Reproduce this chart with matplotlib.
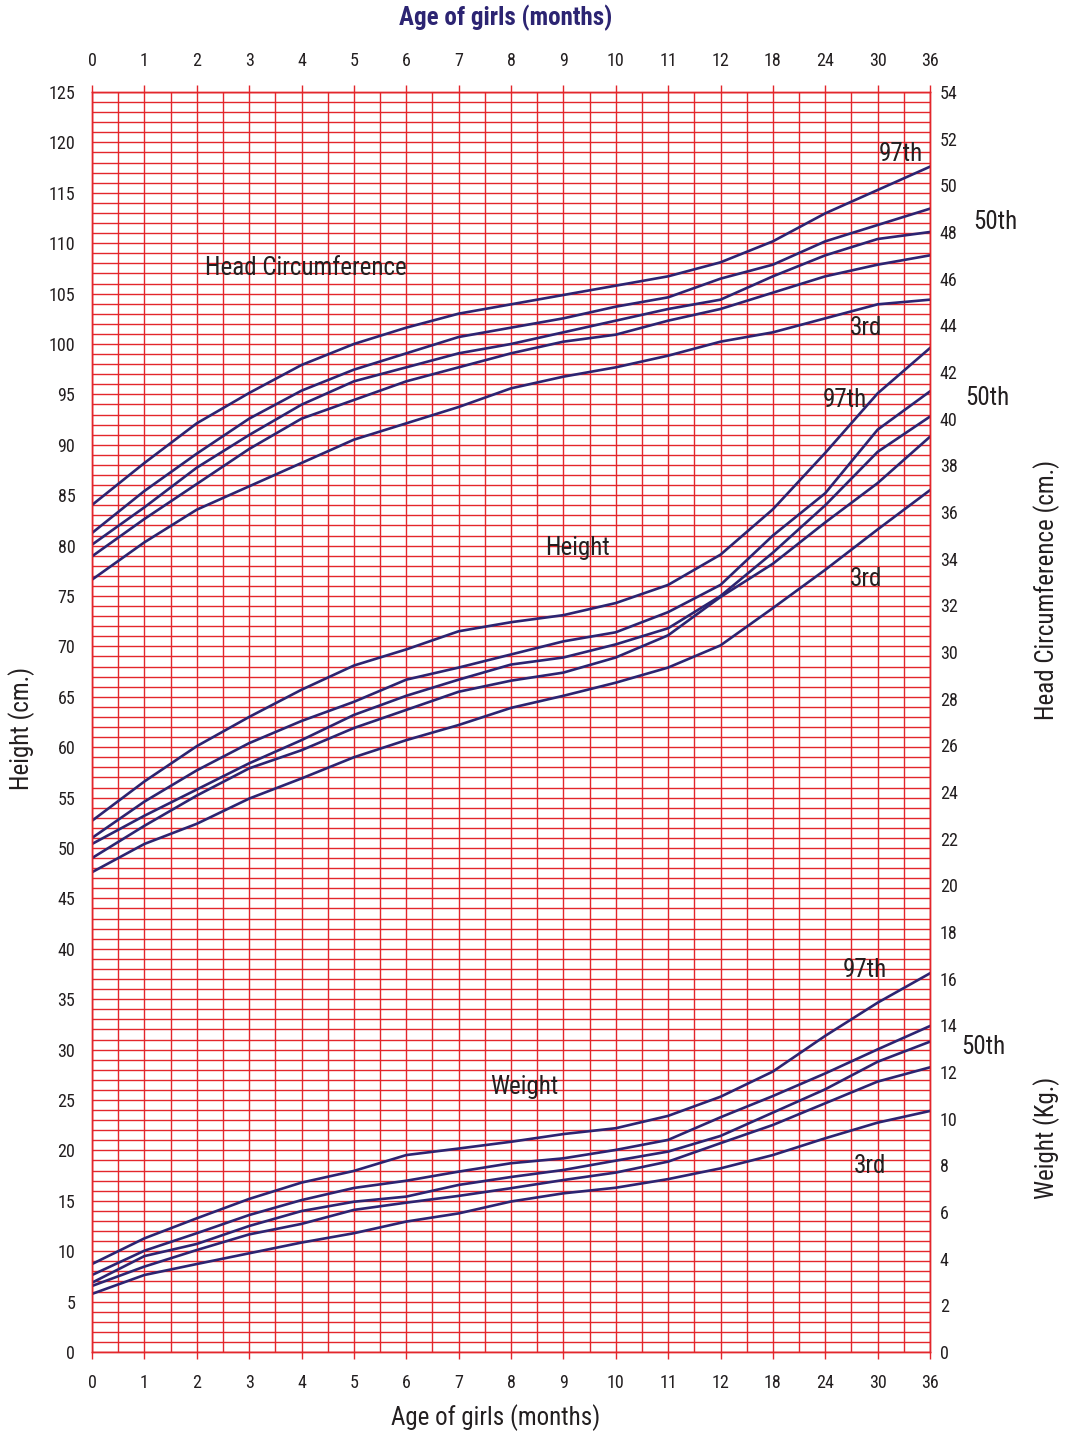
import matplotlib
matplotlib.use('Agg')
import matplotlib.pyplot as plt
from matplotlib.ticker import MultipleLocator
import numpy as np

plt.rcParams['font.family'] = ['Roboto Condensed', 'DejaVu Sans']

# x positions are equal steps; labels are the age in months
age_labels = ['0', '1', '2', '3', '4', '5', '6', '7', '8', '9', '10', '11', '12',
              '18', '24', '30', '36']
age_pos = list(range(len(age_labels)))

# head circumference (cm, right scale)
head_97 = [36.3, 38.1, 39.8, 41.1, 42.3, 43.2, 43.9, 44.5, 44.9, 45.3, 45.7, 46.1, 46.7, 47.6, 48.8, 49.8, 50.8]
head_75 = [35.1, 36.9, 38.5, 40.0, 41.2, 42.1, 42.8, 43.5, 43.9, 44.3, 44.8, 45.2, 46.0, 46.6, 47.6, 48.3, 49.0]
head_50 = [34.6, 36.2, 37.9, 39.3, 40.6, 41.6, 42.2, 42.8, 43.2, 43.7, 44.2, 44.7, 45.1, 46.1, 47.0, 47.7, 48.0]
head_25 = [34.1, 35.7, 37.2, 38.7, 40.0, 40.8, 41.6, 42.2, 42.8, 43.3, 43.6, 44.2, 44.7, 45.4, 46.1, 46.6, 47.0]
head_3 = [33.1, 34.7, 36.1, 37.1, 38.1, 39.1, 39.8, 40.5, 41.3, 41.8, 42.2, 42.7, 43.3, 43.7, 44.3, 44.9, 45.1]

# height (cm, left scale)
height_97 = [52.7, 56.6, 60.1, 63.0, 65.7, 68.1, 69.7, 71.5, 72.4, 73.1, 74.3, 76.1, 79.1, 83.6, 89.2, 95.1, 99.6]
height_75 = [51.0, 54.6, 57.7, 60.4, 62.6, 64.5, 66.7, 67.9, 69.2, 70.5, 71.4, 73.4, 76.1, 81.0, 85.2, 91.5, 95.3]
height_50 = [50.4, 53.2, 55.8, 58.4, 60.7, 63.2, 65.1, 66.7, 68.2, 68.9, 70.2, 71.8, 75.0, 79.3, 84.0, 89.3, 92.8]
height_25 = [49.0, 52.2, 55.2, 57.9, 59.7, 61.9, 63.7, 65.5, 66.6, 67.4, 68.9, 71.1, 74.9, 78.2, 82.3, 86.2, 90.8]
height_3 = [47.6, 50.4, 52.4, 54.9, 56.9, 59.0, 60.7, 62.2, 63.9, 65.1, 66.4, 67.9, 70.1, 73.8, 77.6, 81.6, 85.5]

# weight (kg, right scale)
weight_97 = [3.77, 4.87, 5.73, 6.56, 7.26, 7.76, 8.44, 8.72, 9.01, 9.34, 9.59, 10.12, 10.94, 12.02, 13.55, 14.97, 16.23]
weight_75 = [3.30, 4.34, 5.09, 5.87, 6.51, 7.03, 7.34, 7.73, 8.09, 8.30, 8.66, 9.09, 10.06, 10.97, 11.94, 12.97, 13.97]
weight_50 = [2.97, 4.11, 4.63, 5.40, 6.04, 6.44, 6.66, 7.16, 7.50, 7.80, 8.20, 8.59, 9.26, 10.26, 11.26, 12.44, 13.30]
weight_25 = [2.83, 3.66, 4.37, 5.04, 5.49, 6.09, 6.40, 6.69, 7.02, 7.37, 7.69, 8.16, 8.95, 9.73, 10.66, 11.59, 12.20]
weight_3 = [2.49, 3.30, 3.77, 4.23, 4.69, 5.09, 5.59, 5.94, 6.45, 6.80, 7.04, 7.41, 7.87, 8.44, 9.16, 9.83, 10.33]

RED = '#e3262b'
NAVY = '#2c2472'
INK = '#231f20'

fig = plt.figure(figsize=(10.65, 14.36), dpi=100)
ax = fig.add_axes([92 / 1065, 84 / 1436, 838 / 1065, 1260 / 1436])
ax2 = ax.twinx()

ax.set_xlim(0, 16)
ax.set_ylim(0, 125)
ax2.set_ylim(0, 54)

ax.xaxis.set_major_locator(MultipleLocator(1))
ax.xaxis.set_minor_locator(MultipleLocator(0.5))
ax.yaxis.set_major_locator(MultipleLocator(5))
ax.yaxis.set_minor_locator(MultipleLocator(1))
ax.set_xticks(age_pos)
ax.set_xticklabels(age_labels)
ax2.set_yticks(np.arange(0, 55, 2))

ax.grid(which='both', color=RED, linewidth=1.0)
ax.set_axisbelow(True)

ax.tick_params(axis='y', which='both', length=0, pad=12, labelsize=13, labelcolor=INK)
ax2.tick_params(axis='y', which='both', length=0, pad=7, labelsize=13, labelcolor=INK)
ax.tick_params(axis='x', which='major', length=5, width=1, color=RED, direction='out',
               top=True, labeltop=True, pad=11, labelsize=13, labelcolor=INK)
ax.tick_params(axis='x', which='minor', length=0)

for a in (ax, ax2):
    for s in a.spines.values():
        s.set_color(RED)
        s.set_linewidth(1.0)

lw = 1.9
for h in (head_97, head_75, head_50, head_25, head_3):
    ax2.plot(age_pos, h, color=NAVY, linewidth=lw, solid_joinstyle='round')
for w in (weight_97, weight_75, weight_50, weight_25, weight_3):
    ax2.plot(age_pos, w, color=NAVY, linewidth=lw, solid_joinstyle='round')
for h in (height_97, height_75, height_50, height_25, height_3):
    ax.plot(age_pos, h, color=NAVY, linewidth=lw, solid_joinstyle='round')

# group and percentile labels
fs = 18
ax.text(4.09, 107.5, 'Head Circumference', fontsize=fs, color=INK, ha='center', va='center')
ax.text(9.27, 79.8, 'Height', fontsize=fs, color=INK, ha='center', va='center')
ax.text(8.26, 26.3, 'Weight', fontsize=fs, color=INK, ha='center', va='center')

ax.text(15.45, 118.8, '97th', fontsize=fs, color=INK, ha='center', va='center')
ax.text(17.25, 112.1, '50th', fontsize=fs, color=INK, ha='center', va='center')
ax.text(14.78, 101.6, '3rd', fontsize=fs, color=INK, ha='center', va='center')

ax.text(14.37, 94.4, '97th', fontsize=fs, color=INK, ha='center', va='center')
ax.text(17.09, 94.6, '50th', fontsize=fs, color=INK, ha='center', va='center')
ax.text(14.78, 76.7, '3rd', fontsize=fs, color=INK, ha='center', va='center')

ax.text(14.75, 37.9, '97th', fontsize=fs, color=INK, ha='center', va='center')
ax.text(17.02, 30.3, '50th', fontsize=fs, color=INK, ha='center', va='center')
ax.text(14.86, 18.5, '3rd', fontsize=fs, color=INK, ha='center', va='center')

# axis titles
fig.text(506 / 1065, 1 - 18 / 1436, 'Age of girls (months)', fontsize=18, fontweight='bold',
         color=NAVY, ha='center', va='center')
fig.text(496 / 1065, 1 - 1418 / 1436, 'Age of girls (months)', fontsize=18,
         color=INK, ha='center', va='center')
fig.text(22 / 1065, 1 - 728 / 1436, 'Height (cm.)', fontsize=18, rotation=90,
         color=INK, ha='center', va='center')
fig.text(1047 / 1065, 1 - 590 / 1436, 'Head Circumference (cm.)', fontsize=18, rotation=90,
         color=INK, ha='center', va='center')
fig.text(1047 / 1065, 1 - 1138 / 1436, 'Weight (Kg.)', fontsize=18, rotation=90,
         color=INK, ha='center', va='center')

fig.savefig('out.png', dpi=100)
plt.close(fig)
